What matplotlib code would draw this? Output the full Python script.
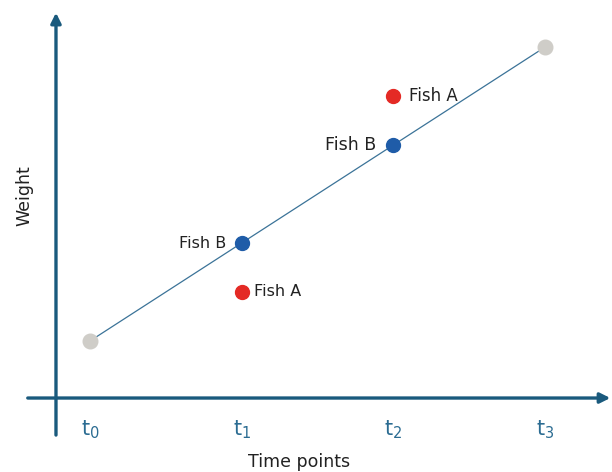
import matplotlib
matplotlib.use("Agg")
import matplotlib.pyplot as plt

# data: time index and weight (arbitrary units)
times = [0, 1, 2, 3]
tick_labels = [r"$\mathregular{t_0}$", r"$\mathregular{t_1}$",
               r"$\mathregular{t_2}$", r"$\mathregular{t_3}$"]
trend_times = [0, 3]
trend_weights = [1.0, 4.0]
fish_times = [1, 2]
fish_a = [1.5, 3.5]
fish_b = [2.0, 3.0]

C_AXIS = "#1a5a7d"
C_LINE = "#3b7398"
C_TICK = "#2b6c92"
C_BLUE = "#1f5ca8"
C_RED = "#e42a25"
C_GRAY = "#cfcdc8"
C_TEXT = "#222222"

fig = plt.figure(figsize=(6.12, 4.72), dpi=100)
ax = fig.add_axes([0, 0, 1, 1])
ax.set_xlim(-0.593, 3.441)
ax.set_ylim(-0.337, 4.48)
ax.axis("off")

# axes with arrows
x0, y0 = -0.224, 0.418
ax.annotate("", xy=(3.43, y0), xytext=(-0.41, y0),
            arrowprops=dict(arrowstyle="-|>,head_length=0.6,head_width=0.3",
                            color=C_AXIS, lw=2.4, shrinkA=0, shrinkB=0))
ax.annotate("", xy=(x0, 4.35), xytext=(x0, 0.04),
            arrowprops=dict(arrowstyle="-|>,head_length=0.6,head_width=0.3",
                            color=C_AXIS, lw=2.4, shrinkA=0, shrinkB=0))

# trend line and end points
ax.plot(trend_times, trend_weights, color=C_LINE, lw=0.9, zorder=2)
ax.plot(trend_times, trend_weights, "o", color=C_GRAY, ms=10.5, zorder=3)

ax.plot(fish_times, fish_b, "o", color=C_BLUE, ms=10, zorder=4)
ax.plot(fish_times, fish_a, "o", color=C_RED, ms=10, zorder=4)

# labels next to points
ax.annotate("Fish B", (fish_times[0], fish_b[0]), xytext=(-11, 0),
            textcoords="offset points", ha="right", va="center",
            fontsize=11.5, color=C_TEXT)
ax.annotate("Fish A", (fish_times[0], fish_a[0]), xytext=(9, 0),
            textcoords="offset points", ha="left", va="center",
            fontsize=11.5, color=C_TEXT)
ax.annotate("Fish B", (fish_times[1], fish_b[1]), xytext=(-12, 0),
            textcoords="offset points", ha="right", va="center",
            fontsize=12.5, color=C_TEXT)
ax.annotate("Fish A", (fish_times[1], fish_a[1]), xytext=(11, 0),
            textcoords="offset points", ha="left", va="center",
            fontsize=12, color=C_TEXT)

# tick labels
for t, lab in zip(times, tick_labels):
    ax.text(t, 0.09, lab, ha="center", va="center", fontsize=15, color=C_TICK)

ax.text(1.38, -0.24, "Time points", ha="center", va="center",
        fontsize=12.5, color=C_TEXT)
ax.text(-0.43, 2.48, "Weight", ha="center", va="center", rotation=90,
        fontsize=12.5, color=C_TEXT)

fig.savefig("out.png", dpi=100, facecolor="white")
